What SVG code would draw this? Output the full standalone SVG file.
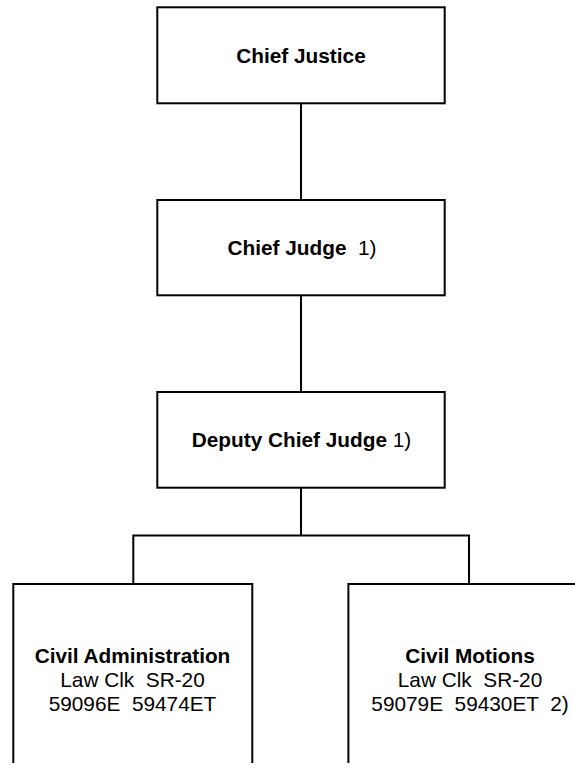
<svg xmlns="http://www.w3.org/2000/svg" width="575" height="773" viewBox="0 0 575 773">
<style>
.box{fill:#fff;stroke:#000;stroke-width:2}
.ln{fill:none;stroke:#000;stroke-width:2}
text{font-family:"Liberation Sans",Arial,sans-serif;font-size:20.8px;fill:#000;text-anchor:middle}
.b{font-weight:bold}
</style>
<rect width="575" height="773" fill="#fff"/>
<g id="connectors">
<path class="ln" d="M301,103.3V200M301,295.3V392M301,487.7V535.5M133.3,584V535.5H469V584"/>
</g>
<g id="chief-justice">
<rect class="box" x="157.3" y="7.3" width="287.4" height="96"/>
<text x="301" y="62.5" class="b">Chief Justice</text>
</g>
<g id="chief-judge">
<rect class="box" x="157.3" y="200" width="287.4" height="95.3"/>
<text x="302" y="255" xml:space="preserve"><tspan class="b">Chief Judge</tspan>  1)</text>
</g>
<g id="deputy-chief-judge">
<rect class="box" x="157.3" y="392" width="287.4" height="95.7"/>
<text x="301.5" y="446.7" xml:space="preserve"><tspan class="b">Deputy Chief Judge</tspan> 1)</text>
</g>
<g id="civil-administration">
<path class="box" d="M13.3,763V584H252.3V763"/>
<text x="132.5" y="662.5" class="b">Civil Administration</text>
<text x="132.5" y="686.5" xml:space="preserve">Law Clk  SR-20</text>
<text x="132.5" y="710.5" xml:space="preserve">59096E  59474ET</text>
</g>
<g id="civil-motions">
<path class="box" d="M348.4,763V584H590V763"/>
<text x="470" y="662.5" class="b">Civil Motions</text>
<text x="470" y="686.5" xml:space="preserve">Law Clk  SR-20</text>
<text x="470" y="710.5" xml:space="preserve">59079E  59430ET  2)</text>
</g>
</svg>
